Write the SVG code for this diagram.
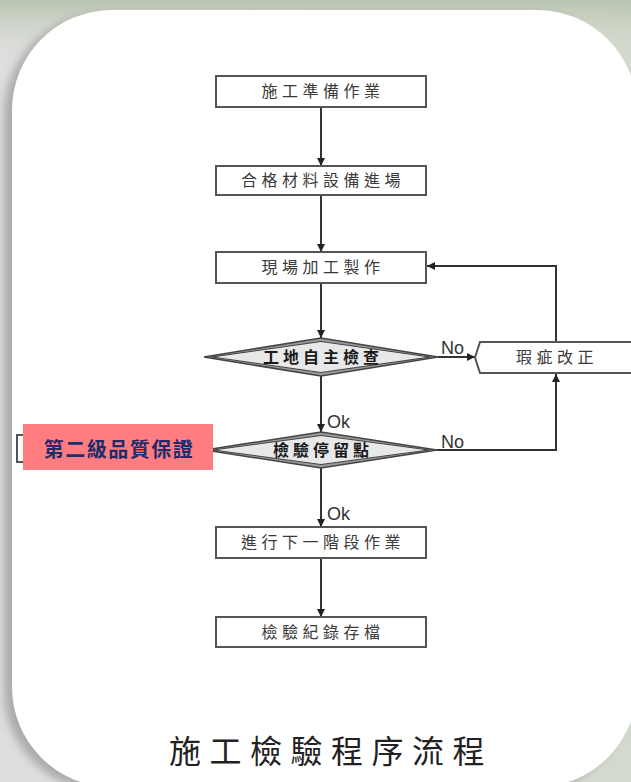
<svg xmlns="http://www.w3.org/2000/svg" width="631" height="782" viewBox="0 0 631 782">
<defs>
<linearGradient id="bg" x1="0" y1="0" x2="1" y2="0">
<stop offset="0" stop-color="#dedede"/>
<stop offset="0.5" stop-color="#d9dcd6"/>
<stop offset="1" stop-color="#d3dacd"/>
</linearGradient>
<linearGradient id="topband" x1="0" y1="0" x2="0" y2="1">
<stop offset="0" stop-color="#b9c4b0" stop-opacity="1"/>
<stop offset="1" stop-color="#d6dbd2" stop-opacity="0"/>
</linearGradient>
<filter id="sh" x="-10%" y="-10%" width="120%" height="120%">
<feGaussianBlur stdDeviation="4"/>
</filter>
<marker id="ah" viewBox="0 0 10 10" refX="10" refY="5" markerWidth="9" markerHeight="8" markerUnits="userSpaceOnUse" orient="auto">
<path d="M0,0 L10,5 L0,10 Z" fill="#222"/>
</marker>
<style>
.box{fill:#fff;stroke:#555;stroke-width:2}
.t{font-family:"Noto Sans CJK TC","Noto Sans CJK SC",sans-serif;font-size:16px;fill:#3a3a3a;text-anchor:middle;letter-spacing:4.5px}
.dt{font-family:"Noto Sans CJK TC","Noto Sans CJK SC",sans-serif;font-size:16px;font-weight:bold;fill:#1a1a1a;text-anchor:middle;letter-spacing:4px}
.dout{fill:#9a9a9a;stroke:#444;stroke-width:1.5}
.din{fill:#e8e8e8;stroke:#444;stroke-width:1}
.ln{fill:none;stroke:#333;stroke-width:2}
.lbl{font-family:"Liberation Sans","DejaVu Sans",sans-serif;font-size:18px;fill:#333}
</style>
</defs>
<rect x="0" y="0" width="631" height="782" fill="url(#bg)"/>
<rect x="0" y="0" width="631" height="60" fill="url(#topband)"/>
<rect x="4" y="14" width="625" height="777" rx="100" ry="100" fill="#8a8a8a" opacity="0.6" filter="url(#sh)"/>
<rect id="card" x="12" y="10" width="625" height="777" rx="100" ry="100" fill="#fff"/>

<g id="connectors">
<line class="ln" x1="321" y1="107" x2="321" y2="166" marker-end="url(#ah)"/>
<line class="ln" x1="321" y1="195" x2="321" y2="252" marker-end="url(#ah)"/>
<line class="ln" x1="321" y1="283" x2="321" y2="338" marker-end="url(#ah)"/>
<line class="ln" x1="321" y1="375" x2="321" y2="432" marker-end="url(#ah)"/>
<line class="ln" x1="321" y1="468" x2="321" y2="527" marker-end="url(#ah)"/>
<line class="ln" x1="321" y1="558" x2="321" y2="617" marker-end="url(#ah)"/>
<line class="ln" x1="438" y1="357" x2="475" y2="357" marker-end="url(#ah)"/>
<polyline class="ln" points="437,450 556,450 556,374" marker-end="url(#ah)"/>
<polyline class="ln" points="556,342 556,266 427,266" marker-end="url(#ah)"/>
<text class="lbl" x="327" y="428">Ok</text>
<text class="lbl" x="327" y="520">Ok</text>
<text class="lbl" x="441" y="354">No</text>
<text class="lbl" x="441" y="448">No</text>
</g>

<g id="n1"><rect class="box" x="216" y="76" width="210" height="31"/><text class="t" x="323" y="97">施工準備作業</text></g>
<g id="n2"><rect class="box" x="216" y="166" width="210" height="29"/><text class="t" x="323" y="186">合格材料設備進場</text></g>
<g id="n3"><rect class="box" x="216" y="252" width="210" height="31"/><text class="t" x="323" y="273">現場加工製作</text></g>
<g id="d1">
<polygon class="dout" points="204,357 321,338 438,357 321,376"/>
<polygon class="din" points="212,357 321,341.5 430,357 321,372.5"/>
<text class="dt" x="323" y="363">工地自主檢查</text>
</g>
<g id="d2">
<polygon class="dout" points="205,450 321,432 437,450 321,468"/>
<polygon class="din" points="213,450 321,435.5 429,450 321,464.5"/>
<text class="dt" x="323" y="456">檢驗停留點</text>
</g>
<g id="fix">
<path class="box" d="M480,342 L645,342 L645,373 L480,373 L475,357.5 Z"/>
<text class="t" x="557" y="363">瑕疵改正</text>
</g>
<g id="n4"><rect class="box" x="216" y="527" width="210" height="31"/><text class="t" x="323" y="548">進行下一階段作業</text></g>
<g id="n5"><rect class="box" x="216" y="617" width="210" height="30"/><text class="t" x="323" y="638">檢驗紀錄存檔</text></g>

<g id="qa">
<rect x="17" y="435" width="150" height="27" fill="#fff" stroke="#555" stroke-width="2"/>
<rect x="23" y="424" width="190" height="46" fill="#ff7c80"/>
<text x="119" y="457" font-family="'Noto Sans CJK TC','Noto Sans CJK SC',sans-serif" font-size="20" font-weight="bold" fill="#1c2c6c" text-anchor="middle" letter-spacing="1.5">第二級品質保證</text>
</g>

<text id="title" x="331" y="763" font-family="'Noto Sans CJK TC','Noto Sans CJK SC',sans-serif" font-size="32" fill="#222" text-anchor="middle" letter-spacing="8.5">施工檢驗程序流程</text>
</svg>
